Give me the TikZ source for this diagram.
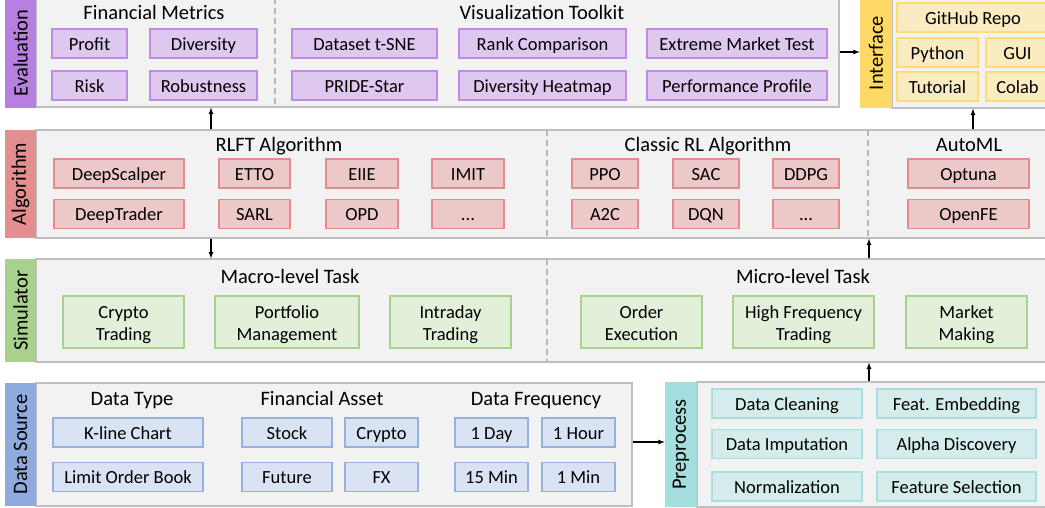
\documentclass[tikz,border=0pt]{standalone}
\usepackage{fontspec}
\usepackage{graphicx}
\usepackage{tikz}
\setmainfont{Carlito}
\usetikzlibrary{arrows}
\definecolor{panelfill}{RGB}{242,242,242}
\definecolor{panelline}{RGB}{191,191,191}
\definecolor{dashgray}{RGB}{185,185,185}
\definecolor{evalbar}{RGB}{183,128,224}
\definecolor{evalfill}{RGB}{223,200,240}
\definecolor{evaledge}{RGB}{190,140,232}
\definecolor{algbar}{RGB}{228,143,143}
\definecolor{algfill}{RGB}{237,200,200}
\definecolor{algedge}{RGB}{228,140,140}
\definecolor{simbar}{RGB}{169,209,142}
\definecolor{simfill}{RGB}{226,239,217}
\definecolor{simedge}{RGB}{169,209,142}
\definecolor{databar}{RGB}{143,170,220}
\definecolor{datafill}{RGB}{218,227,243}
\definecolor{dataedge}{RGB}{150,177,224}
\definecolor{prebar}{RGB}{165,222,222}
\definecolor{prefill}{RGB}{212,236,236}
\definecolor{preedge}{RGB}{170,222,222}
\definecolor{intbar}{RGB}{255,217,102}
\definecolor{intfill}{RGB}{250,236,192}
\definecolor{intedge}{RGB}{255,220,110}
\tikzset{panel/.style = {draw = panelline, fill = panelfill, line width = 1.2, inner sep = 0}}
\tikzset{tag/.style = {inner sep = 0, minimum width = 31, font = \fontsize{20.5}{24}\selectfont}}
\tikzset{heading/.style = {inner sep = 0, anchor = base, font = \fontsize{20.5}{24}\selectfont}}
\tikzset{item/.style = {draw, line width = 1.3, inner sep = 0, minimum height = 29, align = center,
    text height = 15, text depth = 2, font = \fontsize{18.5}{22}\selectfont}}
\tikzset{evalitem/.style = {item, draw = evaledge, fill = evalfill}}
\tikzset{algitem/.style = {item, draw = algedge, fill = algfill}}
\tikzset{simitem/.style = {item, draw = simedge, fill = simfill, minimum height = 52, text height = 38}}
\tikzset{dataitem/.style = {item, draw = dataedge, fill = datafill}}
\tikzset{preitem/.style = {item, draw = preedge, fill = prefill}}
\tikzset{intitem/.style = {item, draw = intedge, fill = intfill}}
\tikzset{divider/.style = {draw = dashgray, line width = 1.2, dash pattern = on 6pt off 4pt}}
\tikzset{flow/.style = {-latex, line width = 1.2}}

\begin{document}
\begin{tikzpicture}[x = 1pt, y = -1pt]
        \useasboundingbox (0, 0) rectangle (1045, 507);
        % evaluation layer
        \node [panel, minimum width = 803, minimum height = 109] (evalpanel) at (437.5, 52.5) {};
        \node [tag, fill = evalbar, minimum height = 110] (evaltag) at (20.5, 53) {\rotatebox{90}{Evaluation}};
        \draw [divider] (275, -2) -- (275, 107);
        \node [heading] (metricstitle) at (154, 19) {Financial Metrics};
        \node [heading] (vistitle) at (542, 19) {Visualization Toolkit};
        \node [evalitem, minimum width = 75] (profit) at (89.5, 43.5) {Profit};
        \node [evalitem, minimum width = 107] (diversity) at (203.5, 43.5) {Diversity};
        \node [evalitem, minimum width = 75] (risk) at (89.5, 85.5) {Risk};
        \node [evalitem, minimum width = 107] (robustness) at (203.5, 85.5) {Robustness};
        \node [evalitem, minimum width = 145] (tsne) at (364.5, 43.5) {Dataset t-SNE};
        \node [evalitem, minimum width = 167] (rankcmp) at (542.5, 43.5) {Rank Comparison};
        \node [evalitem, minimum width = 180] (extreme) at (737, 43.5) {Extreme Market Test};
        \node [evalitem, minimum width = 145] (pridestar) at (364.5, 85.5) {PRIDE-Star};
        \node [evalitem, minimum width = 167] (heatmap) at (542.5, 85.5) {Diversity Heatmap};
        \node [evalitem, minimum width = 180] (perfprofile) at (737, 85.5) {Performance Profile};
        % interface layer
        \node [panel, minimum width = 160, minimum height = 110] (intpanel) at (972, 53) {};
        \node [tag, fill = intbar, minimum width = 32, minimum height = 110] (inttag) at (876, 53) {\rotatebox{90}{Interface}};
        \node [intitem, minimum width = 152] (github) at (973, 17.5) {GitHub Repo};
        \node [intitem, minimum width = 81] (python) at (937.5, 52.5) {Python};
        \node [intitem, minimum width = 63] (gui) at (1017.5, 52.5) {GUI};
        \node [intitem, minimum width = 81] (tutorial) at (937.5, 86.5) {Tutorial};
        \node [intitem, minimum width = 63] (colab) at (1017.5, 86.5) {Colab};
        % algorithm layer
        \node [panel, minimum width = 1014, minimum height = 108] (algpanel) at (543, 184) {};
        \node [tag, fill = algbar, minimum height = 108] (algtag) at (20.5, 184) {\rotatebox{90}{Algorithm}};
        \draw [divider] (547, 130) -- (547, 238);
        \draw [divider] (868, 130) -- (868, 238);
        \node [heading] (rlfttitle) at (279, 151) {RLFT Algorithm};
        \node [heading] (classictitle) at (708, 151) {Classic RL Algorithm};
        \node [heading] (automltitle) at (969, 151) {AutoML};
        \node [algitem, minimum width = 130] (deepscalper) at (119, 173.5) {DeepScalper};
        \node [algitem, minimum width = 71] (etto) at (254.5, 173.5) {ETTO};
        \node [algitem, minimum width = 72] (eiie) at (362, 173.5) {EIIE};
        \node [algitem, minimum width = 72] (imit) at (468, 173.5) {IMIT};
        \node [algitem, minimum width = 130] (deeptrader) at (119, 214) {DeepTrader};
        \node [algitem, minimum width = 71] (sarl) at (254.5, 214) {SARL};
        \node [algitem, minimum width = 72] (opd) at (362, 214) {OPD};
        \node [algitem, minimum width = 72] (rlftmore) at (468, 214) {...};
        \node [algitem, minimum width = 66] (ppo) at (605, 173.5) {PPO};
        \node [algitem, minimum width = 66] (sac) at (706, 173.5) {SAC};
        \node [algitem, minimum width = 66] (ddpg) at (806, 173.5) {DDPG};
        \node [algitem, minimum width = 66] (atwoc) at (605, 214) {A2C};
        \node [algitem, minimum width = 66] (dqn) at (706, 214) {DQN};
        \node [algitem, minimum width = 66] (classicmore) at (806, 214) {...};
        \node [algitem, minimum width = 121] (optuna) at (968.5, 173.5) {Optuna};
        \node [algitem, minimum width = 121] (openfe) at (968.5, 214) {OpenFE};
        % simulator layer
        \node [panel, minimum width = 1014, minimum height = 103] (simpanel) at (543, 310.5) {};
        \node [tag, fill = simbar, minimum height = 103] (simtag) at (20.5, 310.5) {\rotatebox{90}{Simulator}};
        \draw [divider] (547, 259) -- (547, 362);
        \node [heading] (macrotitle) at (290, 283) {Macro-level Task};
        \node [heading] (microtitle) at (803, 283) {Micro-level Task};
        \node [simitem, minimum width = 121] (crypto) at (123.5, 322) {Crypto\\Trading};
        \node [simitem, minimum width = 144] (portfolio) at (287, 322) {Portfolio\\Management};
        \node [simitem, minimum width = 121] (intraday) at (450.5, 322) {Intraday\\Trading};
        \node [simitem, minimum width = 121] (execution) at (641.5, 322) {Order\\Execution};
        \node [simitem, minimum width = 141] (hft) at (803.5, 322) {High Frequency\\Trading};
        \node [simitem, minimum width = 121] (making) at (966.5, 322) {Market\\Making};
        % data source layer
        \node [panel, minimum width = 596, minimum height = 123] (datapanel) at (334, 444.5) {};
        \node [tag, fill = databar, minimum height = 123] (datatag) at (20.5, 444.5) {\rotatebox{90}{Data Source}};
        \node [heading] (typetitle) at (132, 405) {Data Type};
        \node [heading] (assettitle) at (322, 405) {Financial Asset};
        \node [heading] (freqtitle) at (536, 405) {Data Frequency};
        \node [dataitem, minimum width = 150] (kline) at (128, 432.5) {K-line Chart};
        \node [dataitem, minimum width = 150] (lob) at (128, 477) {Limit Order Book};
        \node [dataitem, minimum width = 90] (stock) at (287, 432.5) {Stock};
        \node [dataitem, minimum width = 73] (cryptoasset) at (381.5, 432.5) {Crypto};
        \node [dataitem, minimum width = 90] (future) at (287, 477) {Future};
        \node [dataitem, minimum width = 73] (fx) at (381.5, 477) {FX};
        \node [dataitem, minimum width = 73] (oneday) at (491.5, 432.5) {1 Day};
        \node [dataitem, minimum width = 73] (onehour) at (578.5, 432.5) {1 Hour};
        \node [dataitem, minimum width = 73] (fifteenmin) at (491.5, 477) {15 Min};
        \node [dataitem, minimum width = 73] (onemin) at (578.5, 477) {1 Min};
        % preprocess layer
        \node [panel, minimum width = 355, minimum height = 125] (prepanel) at (874.5, 444.5) {};
        \node [tag, fill = prebar, minimum width = 32, minimum height = 125] (pretag) at (681, 444.5) {\rotatebox{90}{Preprocess}};
        \node [preitem, minimum width = 150] (cleaning) at (787, 403.5) {Data Cleaning};
        \node [preitem, minimum width = 159] (embedding) at (956.5, 403.5) {Feat. Embedding};
        \node [preitem, minimum width = 150] (imputation) at (787, 444) {Data Imputation};
        \node [preitem, minimum width = 159] (alpha) at (956.5, 444) {Alpha Discovery};
        \node [preitem, minimum width = 150] (normalization) at (787, 486.5) {Normalization};
        \node [preitem, minimum width = 159] (selection) at (956.5, 486.5) {Feature Selection};
        % links between layers
        \coordinate (leftlink) at (211, 0);
        \coordinate (midlink) at (869, 0);
        \coordinate (rightlink) at (973, 0);
        \coordinate (toplink) at (0, 52);
        \coordinate (bottomlink) at (0, 442);
        \draw [flow] (datapanel.east |- bottomlink) -- (pretag.west |- bottomlink);
        \draw [flow] (prepanel.north -| midlink) -- (simpanel.south -| midlink);
        \draw [flow] (simpanel.north -| midlink) -- (algpanel.south -| midlink);
        \draw [flow] (algpanel.south -| leftlink) -- (simpanel.north -| leftlink);
        \draw [flow] (algpanel.north -| leftlink) -- (evalpanel.south -| leftlink);
        \draw [flow] (algpanel.north -| rightlink) -- (intpanel.south -| rightlink);
        \draw [flow] (evalpanel.east |- toplink) -- (inttag.west |- toplink);
      \end{tikzpicture}
\end{document}
